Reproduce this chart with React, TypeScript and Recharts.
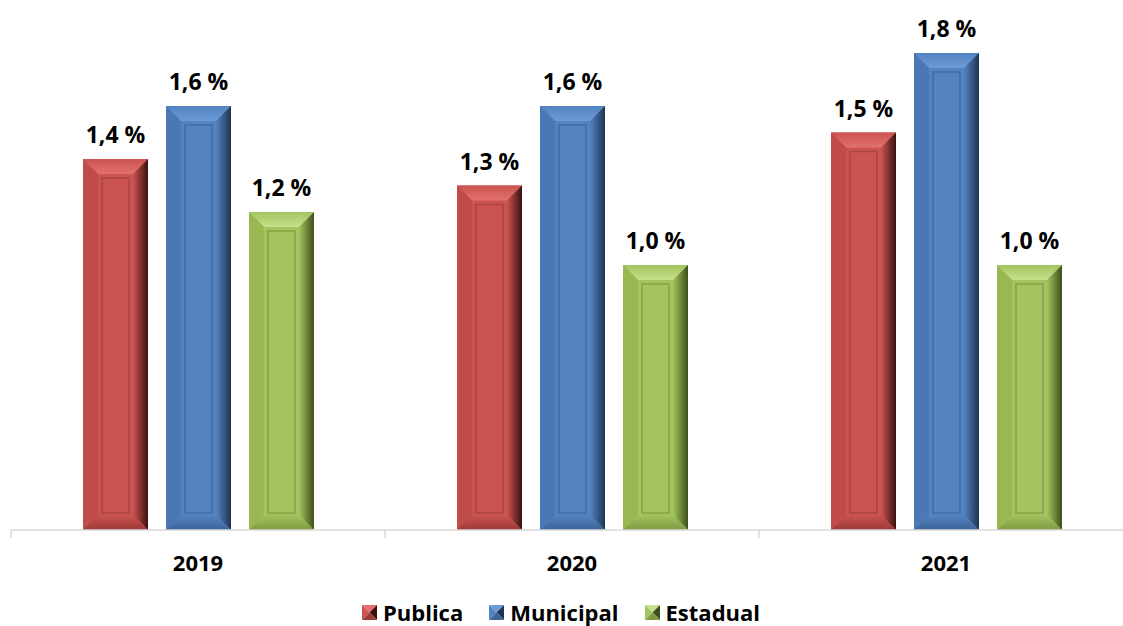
import { Bar, BarChart, LabelList, Legend, XAxis, YAxis } from "recharts";

const years = ["2019", "2020", "2021"];
const publica = [1.4, 1.3, 1.5];
const municipal = [1.6, 1.6, 1.8];
const estadual = [1.2, 1.0, 1.0];

const W = 1150;
const H = 626;
const M = { top: 0, right: 17, left: 11, bottom: 0 };
const band = (W - M.left - M.right) / years.length;
const font = "'Open Sans', 'Liberation Sans', sans-serif";

const palette: Record<string, { face: string; light: string; side: string; dark: string; bottom: string; line: string }> = {
  Publica: { face: "#cb5350", light: "#e4716e", side: "#c04c49", dark: "#3a1212", bottom: "#9c3a38", line: "#a94542" },
  Municipal: { face: "#5483c2", light: "#6c9bd8", side: "#4a78b4", dark: "#1d3452", bottom: "#3d6498", line: "#406ca6" },
  Estadual: { face: "#a3c45e", light: "#c8e08c", side: "#98b852", dark: "#3f4f1c", bottom: "#7f9a42", line: "#86a346" },
};

const data = years.map((year, i) => ({
  year,
  Publica: publica[i],
  Municipal: municipal[i],
  Estadual: estadual[i],
}));

const fmt = (v: any) => `${Number(v).toFixed(1).replace(".", ",")} %`;

function bevelShape(key: string) {
  const c = palette[key];
  return (props: any) => {
    const { x, y, width: w, height: h } = props;
    if (!h || h <= 0) return <g />;
    const b = Math.min(15, w / 3, h / 3);
    const ins = 19;
    return (
      <g>
        <rect x={x} y={y} width={w} height={h} fill={c.face} />
        <polygon points={`${x},${y} ${x + w},${y} ${x + w - b},${y + b} ${x + b},${y + b}`} fill={`url(#top-${key})`} />
        <polygon points={`${x},${y} ${x + b},${y + b} ${x + b},${y + h - b} ${x},${y + h}`} fill={c.side} />
        <polygon
          points={`${x + w},${y} ${x + w - b},${y + b} ${x + w - b},${y + h - b} ${x + w},${y + h}`}
          fill={`url(#grad-${key})`}
        />
        <polygon points={`${x},${y + h} ${x + b},${y + h - b} ${x + w - b},${y + h - b} ${x + w},${y + h}`} fill={`url(#bot-${key})`} />
        {h > ins * 2 + 10 && (
          <rect
            x={x + ins}
            y={y + ins}
            width={w - ins * 2}
            height={h - ins * 2 + 2}
            fill="none"
            stroke={c.line}
            strokeWidth={1.5}
          />
        )}
      </g>
    );
  };
}

const YearTick = (props: any) => {
  const { x, y, payload, index } = props;
  return (
    <g>
      <line x1={x - band / 2} y1={y} x2={x - band / 2} y2={y + 8} stroke="#d9d9d9" strokeWidth={1.5} />
      {index === years.length - 1 && (
        <line x1={x + band / 2} y1={y} x2={x + band / 2} y2={y + 8} stroke="#d9d9d9" strokeWidth={1.5} />
      )}
      <text x={x} y={y + 35} textAnchor="middle" dominantBaseline="middle" fontFamily={font} fontWeight={700} fontSize={22} fill="#000">
        {payload.value}
      </text>
    </g>
  );
};

const LegendIcon = ({ k }: { k: string }) => {
  const c = palette[k];
  return (
    <svg width={15} height={15} style={{ marginRight: 6 }}>
      <polygon points="0,0 15,0 7.5,7.5" fill={c.light} />
      <polygon points="0,0 7.5,7.5 0,15" fill={c.face} />
      <polygon points="15,0 7.5,7.5 15,15" fill={c.dark} />
      <polygon points="0,15 7.5,7.5 15,15" fill={c.bottom} />
    </svg>
  );
};

const LegendContent = () => (
  <div
    style={{
      display: "flex",
      justifyContent: "center",
      alignItems: "center",
      height: 28,
      paddingRight: 22,
      fontFamily: font,
      fontWeight: 700,
      fontSize: 22,
      lineHeight: "28px",
      color: "#000",
    }}
  >
    {Object.keys(palette).map((k) => (
      <div key={k} style={{ display: "flex", alignItems: "center", margin: "0 13px" }}>
        <LegendIcon k={k} />
        <span>{k}</span>
      </div>
    ))}
  </div>
);

export default function App() {
  return (
    <div style={{ position: "absolute", left: 0, top: 0, width: 1123, height: 626, overflow: "hidden", background: "#fff" }}>
      <BarChart width={W} height={H} data={data} margin={M} barSize={65} barGap={18}>
        <defs>
          {Object.keys(palette).map((k) => (
            <linearGradient key={k} id={`grad-${k}`} x1="0" y1="0" x2="1" y2="0">
              <stop offset="0%" stopColor={palette[k].face} />
              <stop offset="100%" stopColor={palette[k].dark} />
            </linearGradient>
          ))}
          {Object.keys(palette).map((k) => (
            <linearGradient key={`t${k}`} id={`top-${k}`} x1="0" y1="0" x2="0" y2="1">
              <stop offset="0%" stopColor={palette[k].face} />
              <stop offset="100%" stopColor={palette[k].light} />
            </linearGradient>
          ))}
          {Object.keys(palette).map((k) => (
            <linearGradient key={`b${k}`} id={`bot-${k}`} x1="0" y1="0" x2="0" y2="1">
              <stop offset="0%" stopColor={palette[k].face} />
              <stop offset="100%" stopColor={palette[k].bottom} />
            </linearGradient>
          ))}
        </defs>
        <XAxis
          dataKey="year"
          axisLine={{ stroke: "#d9d9d9", strokeWidth: 1.5 }}
          tickLine={false}
          tickSize={0}
          tickMargin={0}
          height={68}
          tick={<YearTick />}
          interval={0}
        />
        <YAxis hide domain={[0, 2]} />
        <Legend verticalAlign="bottom" content={<LegendContent />} />
        {Object.keys(palette).map((k) => (
          <Bar key={k} dataKey={k} shape={bevelShape(k)} isAnimationActive={false}>
            <LabelList dataKey={k} position="top" offset={16} formatter={fmt} style={{ fontFamily: font, fontWeight: 700, fontSize: 23, fill: "#000" }} />
          </Bar>
        ))}
      </BarChart>
    </div>
  );
}
